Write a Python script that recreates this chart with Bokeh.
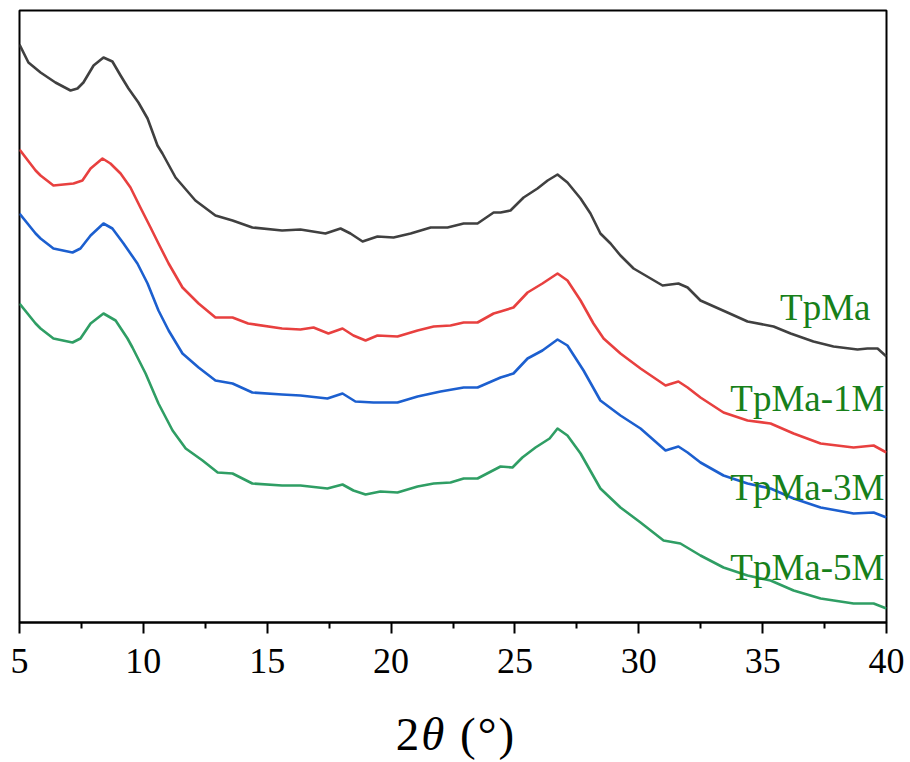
from bokeh.plotting import figure
from bokeh.models import Range1d, FixedTicker, Label, Div
from bokeh.layouts import column
from bokeh.embed import file_html
from bokeh.resources import INLINE

# ---- data (2theta in degrees, stacked intensity in a.u.) ----
x_tpma = [5.0, 5.36, 5.85, 6.45, 7.06, 7.34, 7.58, 7.99, 8.39, 8.75,
          9.08, 9.40, 9.80, 10.17, 10.57, 10.77, 11.30, 12.1, 12.91, 13.6,
          14.4, 15.6, 16.34, 17.35, 17.96, 18.36, 18.85, 19.45, 20.1, 20.79,
          21.6, 22.28, 22.93, 23.49, 24.14, 24.42, 24.82, 25.35, 25.91, 26.32,
          26.72, 27.12, 27.65, 28.05, 28.45, 28.86, 29.26, 29.79, 30.96, 31.6,
          31.97, 32.49, 33.58, 34.39, 35.44, 36.13, 37.05, 37.86, 38.83, 39.23,
          39.64, 40.0]
y_tpma = [578, 560, 550, 540, 532, 534, 540, 557, 565, 561,
          547, 534, 520, 504, 477, 469, 445, 422, 407, 402,
          395, 392, 393, 389, 394, 389, 381, 386, 385, 389,
          395, 395, 399, 399, 410, 410, 412, 425, 434, 442,
          448, 440, 424, 409, 389, 379, 367, 354, 337, 339,
          335, 322, 310, 301, 296, 289, 281, 276, 273, 274,
          274, 266]

x_1m = [5.0, 5.65, 5.85, 6.37, 7.18, 7.54, 7.87, 8.35, 8.67, 9.08,
        9.48, 9.88, 10.29, 10.61, 11.02, 11.58, 12.23, 12.91, 13.6, 14.23,
        15.6, 16.34, 16.87, 17.47, 18.04, 18.48, 18.97, 19.45, 20.26, 21.07,
        21.72, 22.4, 22.93, 23.49, 24.14, 24.42, 24.94, 25.51, 26.11, 26.72,
        27.12, 27.65, 28.17, 28.58, 29.26, 30.07, 31.08, 31.6, 31.97, 32.49,
        33.42, 34.39, 35.32, 36.25, 37.34, 38.67, 39.48, 40.0]
y_1m = [473, 452, 447, 437, 439, 442, 454, 464, 459, 449,
        435, 415, 395, 379, 359, 335, 319, 305, 305, 299,
        294, 293, 295, 289, 294, 287, 282, 287, 286, 292,
        296, 297, 300, 300, 309, 311, 315, 330, 339, 349,
        342, 322, 299, 284, 269, 254, 237, 241, 235, 225,
        210, 202, 199, 189, 179, 175, 177, 170]

x_3m = [5.0, 5.65, 5.85, 6.37, 7.14, 7.46, 7.87, 8.39, 8.75, 9.20,
        9.76, 10.17, 10.61, 11.02, 11.58, 12.23, 12.91, 13.6, 14.4, 15.6,
        16.34, 17.43, 18.04, 18.56, 19.29, 20.26, 21.07, 22.0, 22.93, 23.49,
        24.42, 24.94, 25.51, 26.11, 26.72, 27.12, 27.77, 28.45, 29.26, 30.07,
        31.08, 31.6, 31.97, 32.49, 33.42, 34.39, 35.32, 36.25, 37.34, 38.67,
        39.48, 40.0]
y_3m = [409, 389, 384, 374, 370, 374, 387, 399, 394, 379,
        359, 339, 312, 292, 269, 255, 242, 239, 230, 228,
        227, 224, 229, 221, 220, 220, 226, 231, 235, 235,
        245, 249, 264, 272, 283, 277, 252, 222, 207, 194,
        172, 176, 170, 160, 147, 139, 134, 124, 115, 109,
        110, 105]

x_5m = [5.0, 5.65, 5.85, 6.37, 7.14, 7.46, 7.87, 8.39, 8.88, 9.36,
        9.56, 10.09, 10.61, 11.18, 11.71, 12.39, 13.0, 13.6, 14.4, 15.6,
        16.34, 17.43, 18.04, 18.48, 18.97, 19.57, 20.26, 21.07, 21.72, 22.4,
        22.93, 23.49, 24.42, 24.9, 25.3, 25.83, 26.4, 26.72, 27.12, 27.65,
        28.45, 29.26, 30.07, 31.0, 31.68, 32.49, 33.42, 34.39, 35.32, 36.25,
        37.34, 38.67, 39.48, 40.0]
y_5m = [319, 299, 294, 284, 280, 284, 299, 309, 302, 284,
        275, 249, 219, 192, 174, 162, 150, 149, 139, 137,
        137, 134, 138, 132, 128, 131, 130, 136, 139, 140,
        144, 144, 156, 155, 165, 175, 184, 194, 187, 169,
        134, 115, 100, 82, 79, 67, 55, 47, 42, 32,
        24, 19, 19, 14]

series_names = ["TpMa", "TpMa-1M", "TpMa-3M", "TpMa-5M"]
series_colors = ["#404040", "#e8403f", "#1c5fcf", "#2f9e64"]
x_ticks = [5, 10, 15, 20, 25, 30, 35, 40]
x_minor = [7.5, 12.5, 17.5, 22.5, 27.5, 32.5, 37.5]

SERIF = "Liberation Serif"

p = figure(width=910, height=700, output_backend="svg", toolbar_location=None,
           x_range=Range1d(5, 40), y_range=Range1d(0, 612),
           min_border_left=19, min_border_right=24, min_border_top=10,
           min_border_bottom=78, background_fill_color="white",
           border_fill_color="white", margin=0)

for xs, ys, c in zip([x_tpma, x_1m, x_3m, x_5m], [y_tpma, y_1m, y_3m, y_5m], series_colors):
    p.line(xs, ys, line_color=c, line_width=2.6, line_join="round")

p.grid.visible = False
p.yaxis.visible = False
p.outline_line_color = "black"
p.outline_line_width = 2
p.outline_line_alpha = 1

ax = p.xaxis[0]
ax.ticker = FixedTicker(ticks=x_ticks, minor_ticks=x_minor)
ax.axis_line_width = 2
ax.axis_line_color = "black"
ax.major_tick_line_width = 2
ax.minor_tick_line_width = 2
ax.major_tick_out = 11
ax.major_tick_in = 0
ax.minor_tick_out = 6
ax.minor_tick_in = 0
ax.major_label_text_font = SERIF
ax.major_label_text_font_size = "36px"
ax.major_label_text_color = "black"
ax.major_label_standoff = 15

# series labels
label_pos = [(851, 315), (865, 224), (865, 135), (865, 55)]
for name, (sx, sy) in zip(series_names, label_pos):
    p.add_layout(Label(x=sx, y=sy, x_units="screen", y_units="screen", text=name,
                       text_font=SERIF, text_font_size="37px", text_color="#17801a",
                       text_align="right", text_baseline="alphabetic"))

# axis title "2θ (°)" with italic theta
title_html = ('<div style="font-family:\'Liberation Serif\',serif;font-size:47px;'
              'line-height:47px;color:black;width:910px;text-align:center;'
              'padding-top:11px;padding-left:2px;letter-spacing:2px;white-space:nowrap;">'
              '2<i>θ</i> (°)</div>')
t = Div(text=title_html, width=910, height=62, margin=0)

layout = column(p, t, spacing=0)
open("out.html", "w").write(file_html(layout, INLINE))
